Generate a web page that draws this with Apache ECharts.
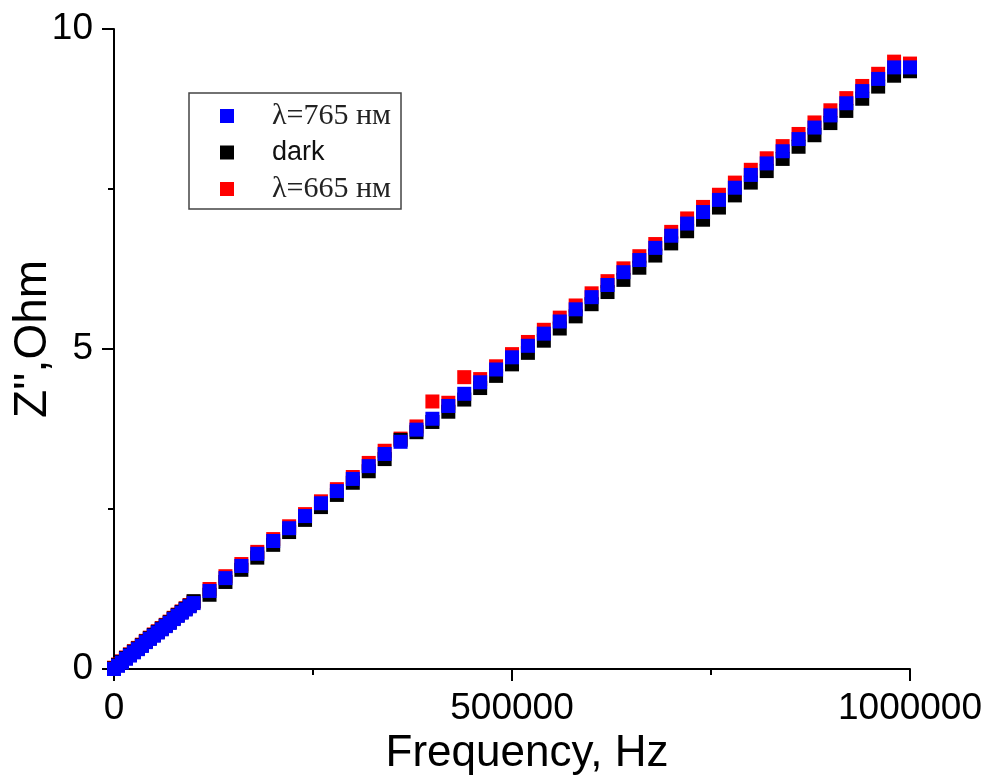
<!DOCTYPE html>
<html>
<head>
<meta charset="utf-8">
<style>html,body{margin:0;padding:0;background:#fff}#c{width:984px;height:778px}</style>
<script src="https://cdn.jsdelivr.net/npm/echarts@6/dist/echarts.min.js"></script>
</head>
<body>
<div id="c"></div>
<script>
// Frequencies (Hz)
const freqHz = [0,5000,10000,15000,20000,25000,30000,35000,40000,45000,50000,55000,60000,65000,70000,75000,80000,85000,90000,95000,100000,
  120000,140000,160000,180000,200000,220000,240000,260000,280000,300000,
  320000,340000,360000,380000,400000,420000,440000,460000,480000,500000,
  520000,540000,560000,580000,600000,620000,640000,660000,680000,700000,
  720000,740000,760000,780000,800000,820000,840000,860000,880000,900000,
  920000,940000,960000,980000,1000000];
// Z'' (Ohm), λ=765 нм (blue)
const z765 = [0.00,0.05,0.10,0.16,0.21,0.26,0.31,0.36,0.42,0.47,0.52,0.57,0.62,0.67,0.72,0.78,0.83,0.88,0.93,0.98,1.03,
  1.22,1.42,1.61,1.80,2.00,2.20,2.39,2.59,2.78,2.97,
  3.17,3.36,3.55,3.74,3.91,4.11,4.30,4.48,4.68,4.87,
  5.05,5.24,5.43,5.62,5.81,6.00,6.20,6.39,6.58,6.77,
  6.96,7.14,7.33,7.52,7.72,7.90,8.09,8.28,8.46,8.65,
  8.84,9.03,9.22,9.40,9.40];
// Z'' (Ohm), dark (black)
const zDark = [0.01,0.06,0.11,0.17,0.22,0.27,0.32,0.37,0.43,0.48,0.53,0.58,0.63,0.68,0.73,0.79,0.84,0.89,0.94,0.99,1.06,
  1.16,1.36,1.55,1.74,1.94,2.14,2.33,2.53,2.72,2.91,
  3.09,3.28,3.58,3.70,3.86,4.02,4.21,4.39,4.58,4.76,
  4.94,5.13,5.32,5.51,5.70,5.89,6.08,6.27,6.46,6.65,
  6.84,7.02,7.21,7.40,7.60,7.78,7.97,8.16,8.34,8.53,
  8.72,8.91,9.10,9.27,9.34];
// Z'' (Ohm), λ=665 нм (red)
const z665 = [0.02,0.07,0.12,0.18,0.23,0.28,0.33,0.38,0.44,0.49,0.54,0.59,0.64,0.69,0.74,0.80,0.85,0.90,0.95,1.00,1.05,
  1.25,1.45,1.64,1.83,2.03,2.23,2.42,2.62,2.81,3.00,
  3.22,3.41,3.60,3.79,4.18,4.16,4.56,4.53,4.73,4.92,
  5.11,5.30,5.49,5.68,5.87,6.06,6.26,6.45,6.64,6.83,
  7.04,7.22,7.41,7.60,7.80,7.98,8.17,8.36,8.54,8.73,
  8.92,9.11,9.30,9.49,9.46];
const xTicks = [0, 500000, 1000000];
const yTicks = [0, 5, 10];
const seriesNames = ['λ=765 нм', 'dark', 'λ=665 нм'];

const pts = (ys) => freqHz.map((f, i) => [f, ys[i]]);

const chart = echarts.init(document.getElementById('c'), null, {renderer: 'canvas'});
const axisCommon = {
  axisLine: {show: true, lineStyle: {color: '#000', width: 2}},
  axisTick: {show: true, length: 12, lineStyle: {color: '#000', width: 2}},
  minorTick: {show: true, splitNumber: 2, length: 6, lineStyle: {color: '#000', width: 2}},
  splitLine: {show: false},
  minorSplitLine: {show: false}
};
chart.setOption({
  animation: false,
  backgroundColor: '#fff',
  grid: {left: 114, right: 74, top: 29, bottom: 109, containLabel: false, outerBoundsMode: 'none'},
  xAxis: Object.assign({
    type: 'value', min: xTicks[0], max: xTicks[2], interval: xTicks[1] - xTicks[0],
    name: 'Frequency, Hz', nameLocation: 'middle', nameGap: 63,
    nameTextStyle: {fontFamily: 'Liberation Sans', fontSize: 44, color: '#000', padding: [0, 0, 0, 30]},
    axisLabel: {fontFamily: 'Liberation Sans', fontSize: 37, color: '#000', margin: 21, formatter: v => String(v)}
  }, axisCommon),
  yAxis: Object.assign({
    type: 'value', min: yTicks[0], max: yTicks[2], interval: yTicks[1] - yTicks[0],
    name: "Z'',Ohm", nameLocation: 'middle', nameGap: 58, nameMoveOverlap: false,
    nameTextStyle: {fontFamily: 'Liberation Sans', fontSize: 46, color: '#000', padding: [0, 0, 0, 20]},
    axisLabel: {fontFamily: 'Liberation Sans', fontSize: 37, color: '#000', margin: 21, formatter: v => String(v)}
  }, axisCommon),
  legend: {
    orient: 'vertical', left: 189, top: 93,
    data: seriesNames,
    icon: 'rect', itemWidth: 14, itemHeight: 14, itemGap: 8,
    padding: [8, 10, 5, 31],
    borderColor: '#444', borderWidth: 1.5, borderRadius: 0,
    selectedMode: false,
    formatter: n => n === 'dark' ? '{a|dark}' : '{s|' + n + '}',
    textStyle: {
      rich: {
        s: {fontFamily: 'Liberation Serif', fontSize: 30, color: '#222', padding: [0, 0, 0, 33], lineHeight: 26},
        a: {fontFamily: 'Liberation Sans', fontSize: 27, color: '#111', padding: [0, 0, 0, 33], lineHeight: 26}
      }
    }
  },
  series: [
    {name: seriesNames[2], type: 'scatter', symbol: 'rect', symbolSize: 14, itemStyle: {color: '#ff0000', opacity: 1}, data: pts(z665)},
    {name: seriesNames[1], type: 'scatter', symbol: 'rect', symbolSize: 14, itemStyle: {color: '#000000', opacity: 1}, data: pts(zDark)},
    {name: seriesNames[0], type: 'scatter', symbol: 'rect', symbolSize: 14, itemStyle: {color: '#0000ff', opacity: 1}, data: pts(z765)}
  ]
});
</script>
</body>
</html>
